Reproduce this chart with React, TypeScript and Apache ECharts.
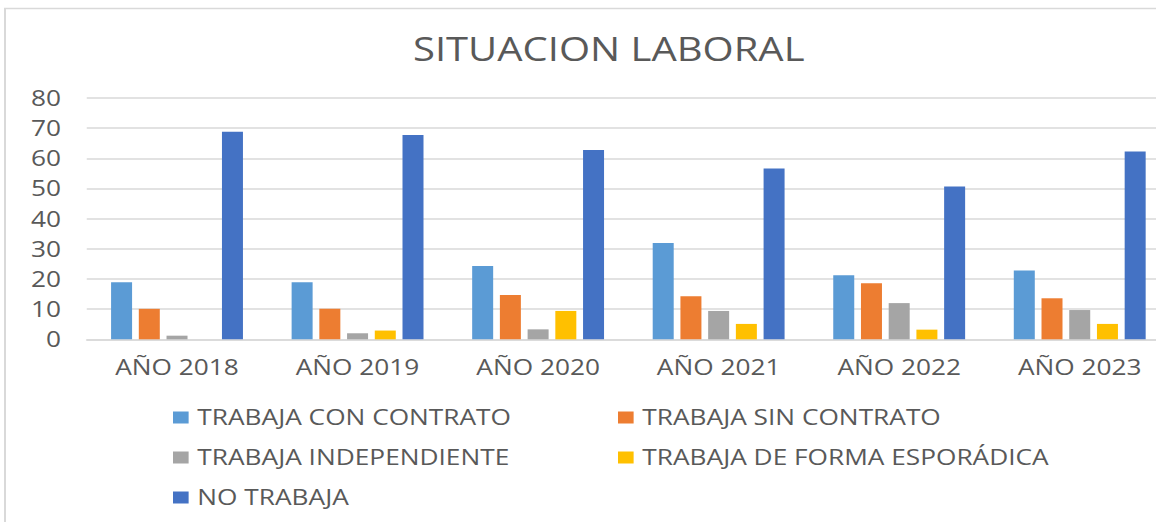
import React, { useEffect, useRef } from 'react';
import * as echarts from 'echarts';

const categories = ['AÑO 2018', 'AÑO 2019', 'AÑO 2020', 'AÑO 2021', 'AÑO 2022', 'AÑO 2023'];
const seriesNames = [
  'TRABAJA CON CONTRATO',
  'TRABAJA SIN CONTRATO',
  'TRABAJA INDEPENDIENTE',
  'TRABAJA DE FORMA ESPORÁDICA',
  'NO TRABAJA',
];
const conContrato = [18.9, 18.9, 24.3, 31.9, 21.2, 22.8];
const sinContrato = [10.1, 10.1, 14.7, 14.3, 18.6, 13.6];
const independiente = [1.2, 2.0, 3.3, 9.4, 12.0, 9.7];
const esporadica = [0, 2.9, 9.4, 5.1, 3.2, 5.1];
const noTrabaja = [68.8, 67.7, 62.8, 56.6, 50.7, 62.3];
const colors = ['#5B9BD5', '#ED7D31', '#A5A5A5', '#FFC000', '#4472C4'];

const FONT = 'Open Sans';
const TEXT = '#595959';
const SX = 1.25; // horizontal stretch of the reference picture

export default function App() {
  const ref = useRef<HTMLDivElement>(null);
  useEffect(() => {
    const chart = echarts.init(ref.current!, null, { renderer: 'svg' });
    const values = [conContrato, sinContrato, independiente, esporadica, noTrabaja];
    const legendBase = {
      orient: 'vertical',
      top: 407,
      padding: 0,
      icon: 'rect',
      itemWidth: 12.5,
      itemHeight: 12,
      itemGap: 19,
      textStyle: { fontSize: 21, color: TEXT, fontFamily: FONT, padding: [0, 0, 0, 2] },
    };
    chart.setOption({
      animation: false,
      backgroundColor: '#ffffff',
      textStyle: { fontFamily: FONT },
      title: {
        text: 'SITUACION LABORAL',
        left: 'center',
        top: 28,
        textStyle: { fontSize: 32, fontWeight: 'normal', color: TEXT, fontFamily: FONT },
      },
      graphic: [
        {
          type: 'rect',
          shape: { x: 5 / SX, y: 8.5, width: 3000, height: 3000 },
          style: { fill: 'none', stroke: '#d9d9d9', lineWidth: 1.6 },
          silent: true,
        },
      ],
      legend: [
        { ...legendBase, left: 173 / SX, data: [seriesNames[0], seriesNames[2], seriesNames[4]] },
        { ...legendBase, left: 618 / SX, data: [seriesNames[1], seriesNames[3]] },
      ],
      grid: { left: 69.4, right: 974 - 936, top: 98, bottom: 522 - 339.3, containLabel: false },
      xAxis: {
        type: 'category',
        data: categories,
        axisTick: { show: false },
        axisLine: { lineStyle: { color: '#d9d9d9', width: 1.5 } },
        axisLabel: { fontSize: 21, color: TEXT, fontFamily: FONT, margin: 17 },
      },
      yAxis: {
        type: 'value',
        min: 0,
        max: 80,
        interval: 10,
        axisLine: { show: false },
        axisTick: { show: false },
        axisLabel: { fontSize: 21, color: TEXT, fontFamily: FONT, margin: 20.6 },
        splitLine: { lineStyle: { color: '#d9d9d9', width: 1.5 } },
      },
      series: seriesNames.map((name, i) => ({
        name,
        type: 'bar',
        data: values[i],
        barWidth: 21 / SX,
        barGap: '32%',
        itemStyle: { color: colors[i] },
      })),
    });
    return () => chart.dispose();
  }, []);
  return (
    <div
      style={{
        position: 'fixed',
        left: 0,
        top: 0,
        width: 1156,
        height: 522,
        overflow: 'hidden',
        background: '#ffffff',
      }}
    >
      <div
        ref={ref}
        style={{ width: 974, height: 522, transform: `scaleX(${SX})`, transformOrigin: '0 0' }}
      />
    </div>
  );
}
